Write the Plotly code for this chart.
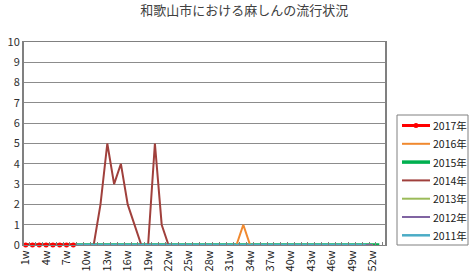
import plotly.graph_objects as go

weeks = list(range(1, 54))
tick_weeks = [1, 4, 7, 10, 13, 16, 19, 22, 25, 28, 31, 34, 37, 40, 43, 46, 49, 52]
tick_labels = [f"{w}w" for w in tick_weeks]

y2017 = [0, 0, 0, 0, 0, 0, 0, 0]
y2016 = [0, 0, 0, 0, 0, 0, 0, 0, 0, 0, 0, 0, 0, 0, 0, 0, 0, 0, 0, 0,
         0, 0, 0, 0, 0, 0, 0, 0, 0, 0, 0, 0, 1, 0, 0, 0, 0, 0, 0, 0,
         0, 0, 0, 0, 0, 0, 0, 0, 0, 0, 0, 0]
y2015 = [0, 0, 0, 0, 0, 0, 0, 0, 0, 0, 0, 0, 0, 0, 0, 0, 0, 0, 0, 0,
         0, 0, 0, 0, 0, 0, 0, 0, 0, 0, 0, 0, 0, 0, 0, 0, 0, 0, 0, 0,
         0, 0, 0, 0, 0, 0, 0, 0, 0, 0, 0, 0, 0]
y2014 = [0, 0, 0, 0, 0, 0, 0, 0, 0, 0, 0, 2, 5, 3, 4, 2, 1, 0, 0, 5,
         1, 0, 0, 0, 0, 0, 0, 0, 0, 0, 0, 0, 0, 0, 0, 0, 0, 0, 0, 0,
         0, 0, 0, 0, 0, 0, 0, 0, 0, 0, 0, 0]
y2013 = [0, 0, 0, 0, 0, 0, 0, 0, 0, 0, 0, 0, 0, 0, 0, 0, 0, 0, 0, 0,
         0, 0, 0, 0, 0, 0, 0, 0, 0, 0, 0, 0, 0, 0, 0, 0, 0, 0, 0, 0,
         0, 0, 0, 0, 0, 0, 0, 0, 0, 0, 0, 0]
y2012 = [0, 0, 0, 0, 0, 0, 0, 0, 0, 0, 0, 0, 0, 0, 0, 0, 0, 0, 0, 0,
         0, 0, 0, 0, 0, 0, 0, 0, 0, 0, 0, 0, 0, 0, 0, 0, 0, 0, 0, 0,
         0, 0, 0, 0, 0, 0, 0, 0, 0, 0, 0, 0]
y2011 = [0, 0, 0, 0, 0, 0, 0, 0, 0, 0, 0, 0, 0, 0, 0, 0, 0, 0, 0, 0,
         0, 0, 0, 0, 0, 0, 0, 0, 0, 0, 0, 0, 0, 0, 0, 0, 0, 0, 0, 0,
         0, 0, 0, 0, 0, 0, 0, 0, 0, 0, 0]

# drawing order (bottom to top)
series = [
    ("2015年", y2015, "#00B050", 3.5),
    ("2013年", y2013, "#9BBB59", 2),
    ("2014年", y2014, "#A0403C", 2),
    ("2016年", y2016, "#F0892F", 2),
    ("2012年", y2012, "#8064A2", 2),
    ("2011年", y2011, "#4BACC6", 2.5),
]
red = "#FF0000"

fig = go.Figure()
for name, ys, color, width in series:
    fig.add_trace(go.Scatter(
        x=weeks[:len(ys)], y=ys, name=name, mode="lines", cliponaxis=False,
        line=dict(color=color, width=width), showlegend=False,
    ))
fig.add_trace(go.Scatter(
    x=weeks[:len(y2017)], y=y2017, name="2017年", mode="lines+markers",
    cliponaxis=False, showlegend=False,
    line=dict(color=red, width=3), marker=dict(color=red, size=5),
))

# legend (drawn as a box in paper coordinates)
L, R, T, B = 24, 385, 42, 245


def px(x):
    return (x - L) / (R - L)


def py(y):
    return (B - y) / (B - T)


legend_order = [("2017年", red, 3)] + [
    (n, c, w) for n, _, c, w in sorted(series, key=lambda s: s[0], reverse=True)
]
shapes = [dict(type="rect", xref="paper", yref="paper", x0=px(397), x1=px(468),
               y0=py(245), y1=py(115), line=dict(color="#808080", width=1),
               fillcolor="white", layer="above")]
annotations = []
row_y = 125.5
for name, color, width in legend_order:
    shapes.append(dict(type="line", xref="paper", yref="paper", x0=px(402),
                       x1=px(430), y0=py(row_y), y1=py(row_y),
                       line=dict(color=color, width=width), layer="above"))
    if name == "2017年":
        shapes.append(dict(type="circle", xref="paper", yref="paper",
                           x0=px(413.5), x1=px(418.5), y0=py(row_y + 2.5),
                           y1=py(row_y - 2.5), fillcolor=color,
                           line=dict(color=color, width=0), layer="above"))
    annotations.append(dict(text=name, xref="paper", yref="paper", x=px(431),
                            y=py(row_y), xanchor="left", yanchor="middle",
                            showarrow=False,
                            font=dict(size=10.5, color="#202020")))
    row_y += 18.3

font_family = "Noto Sans CJK JP, Noto Sans, sans-serif"
fig.update_layout(
    width=469, height=278,
    margin=dict(l=L, r=469 - R, t=T, b=278 - B),
    paper_bgcolor="white", plot_bgcolor="white",
    font=dict(family=font_family, size=11, color="#404040"),
    title=dict(text="和歌山市における麻しんの流行状況", x=0.521, xanchor="center",
               y=0.962, yanchor="middle", font=dict(size=13, color="#404040")),
    showlegend=False,
    shapes=shapes, annotations=annotations,
    xaxis=dict(range=[0.75, 53.84], tickmode="array", tickvals=tick_weeks,
               ticktext=tick_labels, tickangle=-90, ticks="", automargin=False,
               showgrid=False, zeroline=False, showline=True,
               linecolor="#808080", linewidth=1, mirror=True,
               tickfont=dict(size=11, color="#202020"),
               minor=dict(ticks="inside", tickmode="linear", tick0=0.5, dtick=1,
                          ticklen=3, tickcolor="#808080", showgrid=False)),
    yaxis=dict(range=[0, 10], dtick=1, showgrid=True, gridcolor="#8c8c8c",
               gridwidth=1, zeroline=False, showline=True, automargin=False,
               linecolor="#808080", linewidth=2, mirror=True, ticks="",
               tickfont=dict(size=11, color="#303030")),
)

fig.write_html("out.html")
